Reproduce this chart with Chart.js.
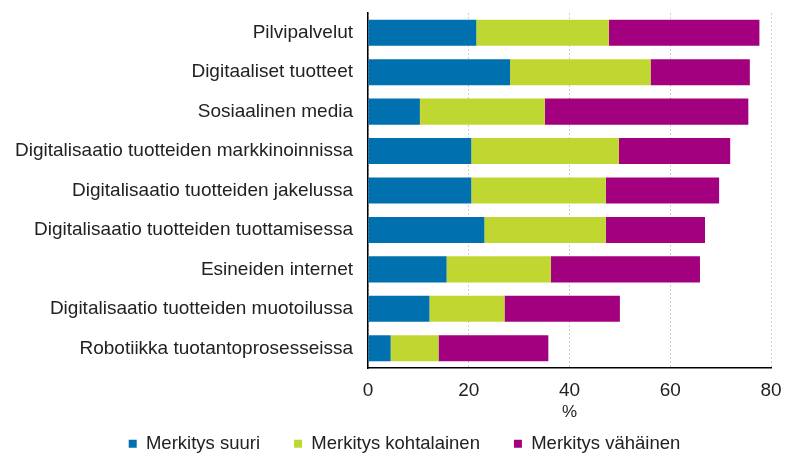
<!DOCTYPE html>
<html>
<head>
<meta charset="utf-8">
<script src="https://cdn.jsdelivr.net/npm/chart.js@4/dist/chart.umd.min.js"></script>
<style>
  html, body { margin: 0; padding: 0; background: #fff; }
  #wrap { width: 785px; height: 455px; }
</style>
</head>
<body>
<div id="wrap"><canvas id="bar-chart"></canvas></div>
<script>
const categories = [
  "Pilvipalvelut",
  "Digitaaliset tuotteet",
  "Sosiaalinen media",
  "Digitalisaatio tuotteiden markkinoinnissa",
  "Digitalisaatio tuotteiden jakelussa",
  "Digitalisaatio tuotteiden tuottamisessa",
  "Esineiden internet",
  "Digitalisaatio tuotteiden muotoilussa",
  "Robotiikka tuotantoprosesseissa"
];
const suuri = [21.5, 28.2, 10.3, 20.5, 20.5, 23.1, 15.6, 12.2, 4.5];
const kohtalainen = [26.3, 27.9, 24.8, 29.3, 26.7, 24.1, 20.7, 14.9, 9.5];
const vahainen = [29.9, 19.7, 40.4, 22.1, 22.5, 19.7, 29.6, 22.9, 21.8];
const seriesLabels = ["Merkitys suuri", "Merkitys kohtalainen", "Merkitys vähäinen"];
const xTicks = [0, 20, 40, 60, 80];

Chart.defaults.font.family = "'Liberation Sans', Arial, sans-serif";
Chart.defaults.color = "#222";

// nudge the legend, and let the x axis reach down past it so its labels aren't clipped
const layoutTweak = {
  id: "layoutTweak",
  afterLayout(chart) {
    const l = chart.legend;
    l.left += 14; l.right += 14;
    l.top += 8; l.bottom += 8;
    chart.scales.x.bottom += 30;
  }
};

var ctx = document.getElementById("bar-chart").getContext("2d");
var myChart = new Chart(ctx, {
  type: "bar",
  data: {
    labels: categories,
    datasets: [
      { label: seriesLabels[0], data: suuri, backgroundColor: "#0071ae" },
      { label: seriesLabels[1], data: kohtalainen, backgroundColor: "#c0d731" },
      { label: seriesLabels[2], data: vahainen, backgroundColor: "#a3007f" }
    ]
  },
  plugins: [layoutTweak],
  options: {
    indexAxis: "y",
    responsive: true,
    maintainAspectRatio: false,
    animation: false,
    datasets: {
      bar: { categoryPercentage: 1, barPercentage: 0.66, borderWidth: 0 }
    },
    layout: { padding: { left: 10, right: 14, top: 13, bottom: 0 } },
    scales: {
      x: {
        stacked: true,
        min: 0,
        max: 80,
        afterBuildTicks: (s) => { s.ticks = xTicks.map(v => ({ value: v })); },
        afterFit: (s) => { s.height = 24.5; s.paddingLeft = 0; s.paddingRight = 0; },
        grid: { color: "#cfcfcf", drawTicks: false, lineWidth: 1 },
        border: { display: true, color: "#000", width: 1.5, dash: [2, 2] },
        ticks: { padding: 11, font: { size: 19 } },
        title: { display: true, text: "%", font: { size: 17 }, padding: { top: 0, bottom: 0 } }
      },
      y: {
        stacked: true,
        afterFit: (s) => { s.width = 358; s.paddingTop = 0; s.paddingBottom = 0; },
        grid: { display: false, drawTicks: false },
        border: { display: true, color: "#000", width: 1.5 },
        ticks: { padding: 15, font: { size: 19 } }
      }
    },
    plugins: {
      tooltip: { enabled: false },
      legend: {
        display: true,
        position: "bottom",
        labels: {
          boxWidth: 8,
          boxHeight: 8,
          padding: 34,
          font: { size: 18.5 }
        }
      }
    }
  }
});
</script>
</body>
</html>
